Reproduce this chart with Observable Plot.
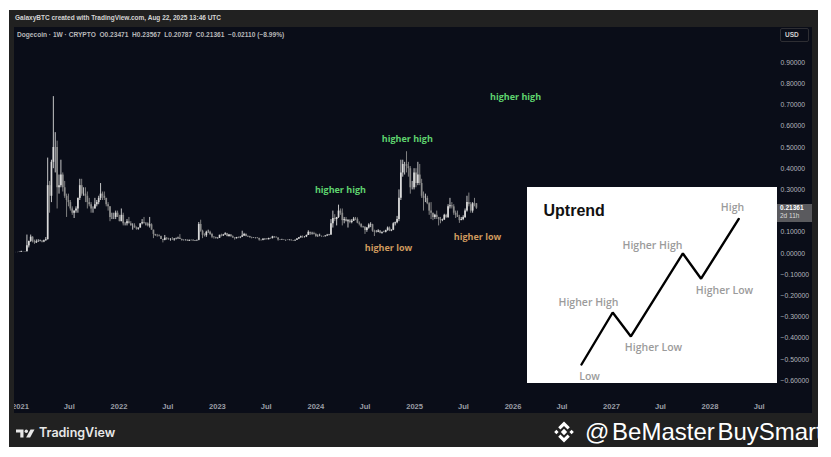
<!DOCTYPE html>
<html><head><meta charset="utf-8">
<script src="https://cdn.jsdelivr.net/npm/d3@7"></script>
<script src="https://cdn.jsdelivr.net/npm/@observablehq/plot@0.6"></script>
<style>
body{margin:0;background:#fff;}
#root{position:relative;width:831px;height:457px;overflow:hidden;background:#fff;font-family:"Liberation Sans",Arial,sans-serif;}
#frame{position:absolute;left:9px;top:10px;width:809px;height:437px;background:#212121;}
#hdr{position:absolute;left:15px;top:14px;font-size:6.5px;line-height:8px;color:#d4d4d4;font-weight:bold;white-space:nowrap;}
#main{position:absolute;left:14px;top:27px;width:798px;height:386px;overflow:hidden;background:#0a0d18;}
#legend{position:absolute;left:17px;top:31px;font-size:6.6px;line-height:8px;color:#b8b8b8;white-space:nowrap;font-weight:bold;}
#usd{position:absolute;left:780px;top:28px;width:29px;height:14px;border:1px solid #2e2e33;border-radius:2px;box-sizing:border-box;font-size:6.5px;color:#d0d0d0;line-height:12px;padding-left:4px;font-weight:bold;}
#price{position:absolute;left:777px;width:35px;height:18px;background:#5a5a5e;color:#fff;font-size:6.5px;line-height:8px;padding-left:3px;box-sizing:border-box;font-weight:bold;}
#price span{display:block;color:#dcdcdc;font-weight:normal;}
#inset{position:absolute;left:527px;top:187px;width:250px;height:196px;background:#fff;}
#tv{position:absolute;left:16px;top:425px;display:flex;align-items:center;color:#e8e8e8;font-family:Inter,"Liberation Sans",sans-serif;font-weight:600;font-size:12.5px;}
#wm{position:absolute;left:553px;top:418px;display:flex;align-items:center;color:#fff;font-family:"Liberation Sans",Arial,sans-serif;font-size:24px;word-spacing:-4px;white-space:nowrap;}
</style></head>
<body>
<div id="root">
  <div id="frame"></div>
  <div id="hdr">GalaxyBTC created with TradingView.com, Aug 22, 2025 13:46 UTC</div>
  <div id="main"></div>
  <div id="legend">Dogecoin · 1W · CRYPTO&nbsp; O0.23471&nbsp; H0.23567&nbsp; L0.20787&nbsp; C0.21361&nbsp; −0.02110 (−8.99%)</div>
  <div id="usd">USD</div>
  <div id="price"></div>
  <div id="inset"></div>
  <div id="tv"><svg width="19" height="10" viewBox="0 0 19 10" style="margin-right:4px"><path d="M0 1.5h7.5v8h-3.2v-5h-4.3z" fill="#e8e8e8"/><circle cx="10.3" cy="3.2" r="1.7" fill="#e8e8e8"/><path d="M14.5 1.5h4l-4.4 8h-4z" fill="#e8e8e8"/></svg>TradingView</div>
  <div id="wm"><svg width="22" height="22" viewBox="-11 -11 22 22" style="margin-right:10px"><g fill="#fff"><path d="M0 -3.2L3.2 0L0 3.2L-3.2 0z"/><path d="M-7.6 -2.2L-5.4 0L-7.6 2.2L-9.8 0z"/><path d="M7.6 -2.2L9.8 0L7.6 2.2L5.4 0z"/><path d="M0 -10.5L5.8 -4.7L3.6 -2.5L0 -6.1L-3.6 -2.5L-5.8 -4.7z"/><path d="M0 10.5L5.8 4.7L3.6 2.5L0 6.1L-3.6 2.5L-5.8 4.7z"/></g></svg>@ BeMaster BuySmart</div>
</div>
<script>
// ---- Weekly Dogecoin candles (week of 2020-12-14 through week of 2025-08-18) ----
const firstWeek = "2020-12-14";
const lastWeek = "2025-08-18";
const open = [
 0.0045,0.0045,0.0046,0.0057,0.0088,0.0078,0.0087,0.036,0.057,0.077,0.056,0.050,0.055,0.057,0.058,0.054,0.060,0.065,0.32,0.27,0.43,0.50,0.50,0.31,0.32,0.37,0.31,0.27,0.25,0.24,0.21,0.19,0.20,0.21,0.26,0.32,0.28,0.28,0.27,0.24,0.23,0.21,0.21,0.23,0.24,0.26,0.28,0.27,0.26,0.23,0.22,0.17,0.17,0.17,0.19,
 0.17,0.15,0.18,0.14,0.14,0.15,0.14,0.13,0.13,0.12,0.115,0.12,0.14,0.145,0.14,0.14,0.13,0.135,0.11,0.09,0.084,0.083,0.08,0.066,0.062,0.072,0.068,0.065,0.065,0.064,0.068,0.07,0.072,0.066,0.062,0.062,0.063,0.058,0.062,0.061,0.059,0.060,0.062,0.137,0.105,0.086,0.084,0.10,0.10,0.09,0.077,0.075,
 0.07,0.072,0.086,0.083,0.087,0.093,0.08,0.087,0.079,0.073,0.07,0.075,0.074,0.077,0.083,0.09,0.08,0.08,0.074,0.072,0.073,0.073,0.071,0.063,0.062,0.067,0.068,0.065,0.071,0.07,0.078,0.074,0.073,0.064,0.063,0.064,0.062,0.062,0.061,0.063,0.06,0.059,0.063,0.068,0.074,0.079,0.078,0.078,0.085,0.10,0.092,0.093,
 0.09,0.08,0.08,0.081,0.08,0.079,0.083,0.086,0.087,0.14,0.165,0.16,0.17,0.20,0.19,0.155,0.16,0.15,0.155,0.146,0.152,0.162,0.16,0.143,0.138,0.124,0.124,0.108,0.12,0.134,0.136,0.105,0.10,0.10,0.106,0.095,0.10,0.10,0.108,0.12,0.106,0.11,0.14,0.145,0.16,0.26,0.38,0.42,0.42,0.41,0.40,0.31,0.31,
 0.38,0.33,0.37,0.33,0.27,0.26,0.26,0.235,0.20,0.19,0.17,0.18,0.17,0.16,0.155,0.158,0.18,0.17,0.22,0.225,0.22,0.19,0.18,0.17,0.155,0.16,0.17,0.20,0.24,0.23,0.20,0.235,0.23471
];
const high = [
 0.0049,0.0052,0.0060,0.0108,0.0095,0.0095,0.087,0.058,0.087,0.079,0.063,0.064,0.065,0.063,0.060,0.063,0.075,0.45,0.34,0.44,0.74,0.57,0.53,0.37,0.44,0.38,0.34,0.28,0.28,0.25,0.22,0.20,0.22,0.26,0.35,0.35,0.31,0.31,0.29,0.26,0.24,0.22,0.26,0.25,0.27,0.33,0.29,0.29,0.26,0.24,0.22,0.19,0.19,0.20,0.20,
 0.18,0.21,0.19,0.145,0.16,0.17,0.15,0.14,0.14,0.125,0.12,0.14,0.16,0.17,0.145,0.145,0.17,0.14,0.11,0.09,0.09,0.088,0.082,0.067,0.085,0.075,0.072,0.07,0.075,0.07,0.073,0.077,0.089,0.068,0.064,0.064,0.064,0.063,0.064,0.066,0.061,0.062,0.146,0.157,0.11,0.093,0.105,0.11,0.105,0.095,0.08,0.077,
 0.074,0.086,0.091,0.09,0.098,0.095,0.09,0.089,0.083,0.074,0.076,0.078,0.078,0.105,0.095,0.093,0.082,0.081,0.077,0.074,0.074,0.075,0.072,0.065,0.07,0.069,0.07,0.072,0.073,0.081,0.08,0.079,0.074,0.065,0.067,0.064,0.063,0.064,0.064,0.064,0.061,0.063,0.07,0.075,0.082,0.083,0.08,0.087,0.107,0.10,0.10,0.10,
 0.095,0.088,0.091,0.082,0.081,0.083,0.09,0.09,0.16,0.20,0.183,0.17,0.228,0.21,0.21,0.17,0.17,0.16,0.16,0.16,0.17,0.17,0.168,0.149,0.139,0.128,0.126,0.123,0.14,0.145,0.138,0.11,0.108,0.112,0.108,0.10,0.105,0.11,0.125,0.125,0.112,0.145,0.148,0.175,0.30,0.44,0.44,0.43,0.48,0.43,0.41,0.34,0.40,
 0.40,0.43,0.42,0.35,0.29,0.28,0.27,0.24,0.24,0.19,0.185,0.20,0.17,0.17,0.162,0.185,0.185,0.23,0.26,0.24,0.23,0.20,0.20,0.18,0.17,0.178,0.21,0.27,0.285,0.24,0.24,0.26,0.23567
];
const low = [
 0.0043,0.0041,0.0045,0.0055,0.0072,0.0070,0.0075,0.026,0.052,0.050,0.043,0.047,0.053,0.055,0.050,0.051,0.058,0.064,0.19,0.24,0.40,0.38,0.21,0.28,0.31,0.29,0.26,0.17,0.22,0.20,0.18,0.165,0.19,0.19,0.25,0.27,0.27,0.24,0.21,0.22,0.19,0.19,0.21,0.22,0.23,0.25,0.25,0.25,0.22,0.20,0.15,0.16,0.16,0.16,0.17,
 0.15,0.15,0.13,0.13,0.13,0.14,0.13,0.11,0.12,0.11,0.11,0.12,0.135,0.14,0.13,0.125,0.12,0.11,0.07,0.08,0.077,0.078,0.066,0.05,0.06,0.062,0.063,0.058,0.062,0.058,0.064,0.067,0.066,0.058,0.059,0.059,0.057,0.057,0.059,0.058,0.057,0.057,0.060,0.10,0.07,0.078,0.076,0.095,0.085,0.07,0.068,0.068,
 0.068,0.071,0.078,0.08,0.087,0.078,0.077,0.077,0.072,0.063,0.068,0.07,0.07,0.076,0.08,0.078,0.076,0.073,0.069,0.071,0.069,0.069,0.058,0.058,0.06,0.062,0.064,0.064,0.067,0.069,0.072,0.072,0.058,0.061,0.062,0.061,0.058,0.061,0.060,0.059,0.057,0.058,0.062,0.066,0.072,0.071,0.073,0.075,0.085,0.085,0.087,0.087,
 0.075,0.076,0.079,0.076,0.077,0.078,0.08,0.083,0.085,0.12,0.15,0.13,0.165,0.18,0.13,0.14,0.15,0.12,0.14,0.14,0.152,0.155,0.14,0.13,0.12,0.12,0.09,0.10,0.115,0.122,0.10,0.08,0.097,0.098,0.093,0.091,0.098,0.097,0.105,0.103,0.103,0.108,0.13,0.14,0.15,0.25,0.36,0.37,0.38,0.36,0.28,0.30,0.30,
 0.31,0.32,0.32,0.26,0.20,0.24,0.23,0.18,0.16,0.155,0.16,0.16,0.13,0.14,0.15,0.156,0.165,0.165,0.21,0.21,0.18,0.165,0.17,0.142,0.155,0.155,0.165,0.195,0.22,0.19,0.19,0.22,0.20787
];
const close = [
 0.0045,0.0046,0.0057,0.0088,0.0078,0.0087,0.036,0.057,0.077,0.056,0.050,0.055,0.057,0.058,0.054,0.060,0.065,0.32,0.27,0.43,0.50,0.50,0.31,0.32,0.37,0.31,0.27,0.25,0.24,0.21,0.19,0.20,0.21,0.26,0.32,0.28,0.28,0.27,0.24,0.23,0.21,0.21,0.23,0.24,0.26,0.28,0.27,0.26,0.23,0.22,0.17,0.17,0.17,0.19,0.17,
 0.15,0.18,0.14,0.14,0.15,0.14,0.13,0.13,0.12,0.115,0.12,0.14,0.145,0.14,0.14,0.13,0.135,0.11,0.09,0.084,0.083,0.08,0.066,0.062,0.072,0.068,0.065,0.065,0.064,0.068,0.07,0.072,0.066,0.062,0.062,0.063,0.058,0.062,0.061,0.059,0.060,0.062,0.137,0.105,0.086,0.084,0.10,0.10,0.09,0.077,0.075,0.07,
 0.072,0.086,0.083,0.087,0.093,0.08,0.087,0.079,0.073,0.07,0.075,0.074,0.077,0.083,0.09,0.08,0.08,0.074,0.072,0.073,0.073,0.071,0.063,0.062,0.067,0.068,0.065,0.071,0.07,0.078,0.074,0.073,0.064,0.063,0.064,0.062,0.062,0.061,0.063,0.06,0.059,0.063,0.068,0.074,0.079,0.078,0.078,0.085,0.10,0.092,0.093,0.09,
 0.08,0.08,0.081,0.08,0.079,0.083,0.086,0.087,0.14,0.165,0.16,0.17,0.20,0.19,0.155,0.16,0.15,0.155,0.146,0.152,0.162,0.16,0.143,0.138,0.124,0.124,0.108,0.12,0.134,0.136,0.105,0.10,0.10,0.106,0.095,0.10,0.10,0.108,0.12,0.106,0.11,0.14,0.145,0.16,0.26,0.38,0.42,0.42,0.41,0.40,0.31,0.31,0.38,
 0.33,0.37,0.33,0.27,0.26,0.26,0.235,0.20,0.19,0.17,0.18,0.17,0.16,0.155,0.158,0.18,0.17,0.22,0.225,0.22,0.19,0.18,0.17,0.155,0.16,0.17,0.20,0.24,0.23,0.20,0.235,0.23471,0.21361
];

// axis ticks
const yTickValues = [-0.6,-0.5,-0.4,-0.3,-0.2,-0.1,0,0.1,0.3,0.4,0.5,0.6,0.7,0.8,0.9];
const xTickDates = ["2021-01-01","2021-07-01","2022-01-01","2022-07-01","2023-01-01","2023-07-01","2024-01-01","2024-07-01","2025-01-01","2025-07-01","2026-01-01","2026-07-01","2027-01-01","2027-07-01","2028-01-01","2028-07-01"];

// annotations
const annoText = ["higher high","higher high","higher high","higher low","higher low"];
const annoDate = ["2024-04-01","2024-12-05","2026-01-10","2024-09-26","2025-08-22"];
const annoValue = [0.297,0.538,0.736,0.024,0.075];
const annoKind = ["high","high","high","low","low"];

// inset "Uptrend" schematic
const zigX = [0,1.2,1.9,3.9,4.6,6.05];
const zigY = [0,2,1.08,4.27,3.3,5.6];
const zigLabels = ["Low","Higher High","Higher Low","Higher High","Higher Low","High"];
const zigLabelX = [0.31,0.27,2.77,2.73,5.5,5.81];
const zigLabelY = [-0.46,2.38,0.65,4.58,2.85,6.04];

// ---- build ----
const weeks = d3.utcMonday.range(new Date(firstWeek), d3.utcDay.offset(new Date(lastWeek), 1));
const candles = weeks.map((d, i) => ({date: d, open: open[i], high: high[i], low: low[i], close: close[i]}));
const upCol = "#dadada", downCol = "#8c8c8c";
const col = d => d.close >= d.open ? upCol : downCol;

const annos = annoText.map((t, i) => ({text: t, date: new Date(annoDate[i]), value: annoValue[i], kind: annoKind[i]}));

const chart = Plot.plot({
  width: 798, height: 386,
  marginLeft: 0, marginRight: 35, marginTop: 0, marginBottom: 15,
  style: {background: "#0a0d18", color: "#b8bcc6", fontFamily: "'Liberation Sans', Arial, sans-serif", overflow: "visible"},
  x: {type: "utc", domain: [new Date("2020-12-10"), new Date("2028-09-07")]},
  y: {domain: [-0.684, 1.066]},
  marks: [
    Plot.ruleX(candles, {x: "date", y1: "low", y2: "high", stroke: col, strokeWidth: 0.9}),
    Plot.ruleX(candles, {x: "date", y1: "open", y2: "close", stroke: col, strokeWidth: 1.7}),
    Plot.text(annos, {x: "date", y: "value", text: "text", fill: d => d.kind === "high" ? "#5fd36f" : "#cf9a5e",
      fontSize: 9, fontWeight: "bold", fontFamily: "'Open Sans', 'Liberation Sans', sans-serif"}),
    Plot.axisY(yTickValues, {anchor: "right", tickSize: 0, tickPadding: 3, label: null,
      tickFormat: d3.format(".5f"), fontSize: 6.8, fill: "#b2b5be", textAnchor: "start"}),
    Plot.axisX(xTickDates.map(s => new Date(s)), {anchor: "bottom", tickSize: 0, tickPadding: 5, label: null,
      tickFormat: d => d.getUTCMonth() === 0 ? String(d.getUTCFullYear()) : "Jul", fontSize: 7.6, fontWeight: "bold", fill: "#9a9da6"})
  ]
});
document.getElementById("main").appendChild(chart);

// current price label positioned with the y scale
const lastClose = close[close.length - 1];
const py = chart.scale("y").apply(lastClose);
const pl = document.getElementById("price");
pl.style.top = (27 + py - 4) + "px";
pl.innerHTML = lastClose.toFixed(5) + "<span>2d 11h</span>";

// inset
const zig = zigX.map((x, i) => ({x, y: zigY[i]}));
const zl = zigLabels.map((t, i) => ({t, x: zigLabelX[i], y: zigLabelY[i]}));
const inset = Plot.plot({
  width: 250, height: 196, margin: 0,
  style: {background: "#ffffff", overflow: "visible"},
  x: {domain: [-2.077, 7.54], axis: null},
  y: {domain: [-0.731, 6.808], axis: null},
  marks: [
    Plot.line(zig, {x: "x", y: "y", stroke: "#000", strokeWidth: 2.4, strokeLinejoin: "miter"}),
    Plot.text(zl, {x: "x", y: "y", text: "t", fill: "#9b9b9b", fontSize: 10.5, fontWeight: 600,
      fontFamily: "'Open Sans', 'Liberation Sans', sans-serif"}),
    Plot.text(["Uptrend"], {x: -1.46, y: 5.92, text: d => d, textAnchor: "start", fill: "#111", fontSize: 16, fontWeight: "bold",
      fontFamily: "'Liberation Sans', Arial, sans-serif"})
  ]
});
document.getElementById("inset").appendChild(inset);
</script>
</body></html>
